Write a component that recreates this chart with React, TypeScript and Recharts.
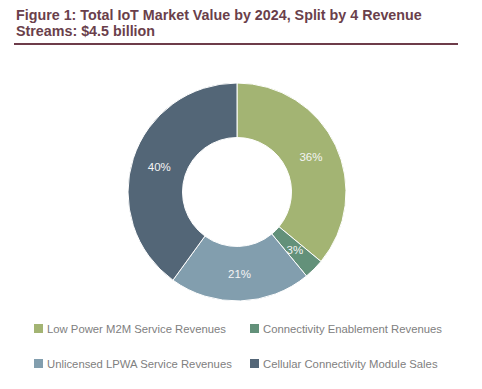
import React from 'react';
import { PieChart, Pie, Cell, Legend } from 'recharts';

const categories = [
  'Low Power M2M Service Revenues',
  'Connectivity Enablement Revenues',
  'Unlicensed LPWA Service Revenues',
  'Cellular Connectivity Module Sales',
];
const shares = [36, 3, 21, 40];
const colors = ['#a3b473', '#63917a', '#829eae', '#536677'];

const data = categories.map((name, i) => ({ name, value: shares[i] }));

const RADIAN = Math.PI / 180;
const renderLabel = (props: any) => {
  const { cx, cy, midAngle, innerRadius, outerRadius, value } = props;
  const r = (innerRadius + outerRadius) / 2;
  const x = cx + r * Math.cos(-midAngle * RADIAN);
  const y = cy + r * Math.sin(-midAngle * RADIAN);
  return (
    <text x={x} y={y} fill="#f4f4f4" textAnchor="middle" dominantBaseline="central"
      fontSize={11.5} fontFamily="'Liberation Sans', Arial, sans-serif">
      {`${value}%`}
    </text>
  );
};

const renderLegend = () => (
  <div style={{ display: 'grid', gridTemplateColumns: '216px 230px', rowGap: 22, fontFamily: "'Liberation Sans', Arial, sans-serif", fontSize: 11.3, color: '#808080' }}>
    {data.map((d, i) => (
      <div key={d.name} style={{ display: 'flex', alignItems: 'center', height: 13 }}>
        <span style={{ display: 'inline-block', width: 9, height: 9, background: colors[i], marginRight: 4 }} />
        <span>{d.name}</span>
      </div>
    ))}
  </div>
);

export default function App() {
  return (
    <div style={{ position: 'absolute', left: 0, top: 0, width: 482, height: 389, background: '#fff' }}>
      <div style={{ position: 'absolute', left: 16, top: 8, width: 460, fontFamily: "'Liberation Sans', Arial, sans-serif", fontWeight: 'bold', fontSize: 14.3, lineHeight: '15.5px', color: '#6a3f4b' }}>
        Figure 1: Total IoT Market Value by 2024, Split by 4 Revenue<br />Streams: $4.5 billion
      </div>
      <div style={{ position: 'absolute', left: 14, top: 43, width: 444, height: 2, background: '#6d3c4a' }} />
      <div style={{ position: 'absolute', left: 0, top: 0 }}>
        <PieChart width={482} height={389} margin={{ top: 0, right: 0, bottom: 0, left: 0 }}>
          <Pie data={data} dataKey="value" nameKey="name" cx={237} cy={192}
            innerRadius={54.5} outerRadius={109} startAngle={90} endAngle={-270}
            stroke="#ffffff" strokeWidth={1} label={renderLabel} labelLine={false}
            isAnimationActive={false}>
            {data.map((d, i) => <Cell key={d.name} fill={colors[i]} />)}
          </Pie>
          <Legend content={renderLegend} wrapperStyle={{ left: 34, top: 322, width: 450 }} />
        </PieChart>
      </div>
    </div>
  );
}
